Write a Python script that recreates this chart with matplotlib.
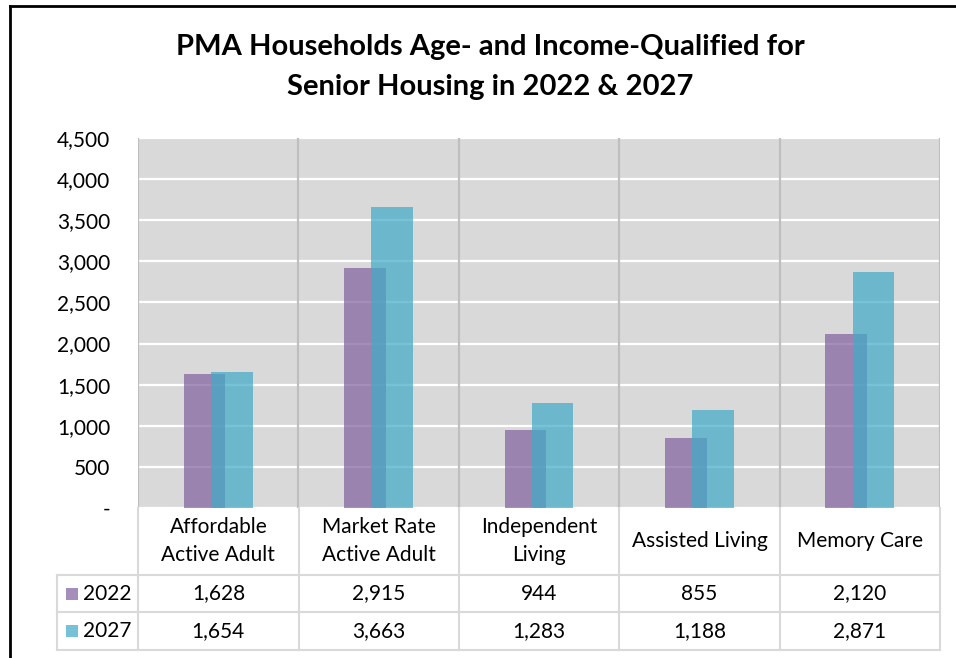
import matplotlib
matplotlib.use('Agg')
import matplotlib.pyplot as plt
import numpy as np
from matplotlib.lines import Line2D
from matplotlib.patches import Rectangle

plt.rcParams['font.family'] = ['Lato', 'DejaVu Sans']

# data
categories = ['Affordable\nActive Adult', 'Market Rate\nActive Adult',
              'Independent\nLiving', 'Assisted Living', 'Memory Care']
years = ['2022', '2027']
values_2022 = [1628, 2915, 944, 855, 2120]
values_2027 = [1654, 3663, 1283, 1188, 2871]
y_ticks = [0, 500, 1000, 1500, 2000, 2500, 3000, 3500, 4000, 4500]
y_tick_labels = ['-', '500', '1,000', '1,500', '2,000', '2,500',
                 '3,000', '3,500', '4,000', '4,500']

purple = '#8362a0'
teal = '#42abc7'
alpha = 0.72
grid_gray = '#d9d9d9'
fs = 15

W, H = 956, 658
fig = plt.figure(figsize=(W / 100, H / 100), dpi=100)


def fx(px):
    return px / W


def fy(py):
    return 1 - py / H


# main plot area
ax = fig.add_axes([fx(138), fy(508), fx(940) - fx(138), fy(138) - fy(508)])
ax.set_facecolor('#d9d9d9')
x = np.arange(len(categories))
bw = 0.26
off = 0.085
ax.bar(x - off, values_2022, bw, color=purple, alpha=alpha, zorder=3)
ax.bar(x + off, values_2027, bw, color=teal, alpha=alpha, zorder=4)
ax.set_xlim(-0.5, len(categories) - 0.5)
ax.set_ylim(0, 4500)
ax.set_yticks(y_ticks)
ax.set_yticklabels(y_tick_labels, fontsize=fs)
ax.tick_params(axis='y', length=0, pad=20)
ax.set_xticks([])
ax.yaxis.grid(True, color='white', linewidth=1.6, zorder=1)
ax.set_axisbelow(True)
for b in np.arange(-0.5, len(categories) + 0.5):
    ax.axvline(b, color='#bfbfbf', linewidth=1.6, zorder=2)
for s in ax.spines.values():
    s.set_visible(False)

# data table below the plot
tx0 = -0.5 - 81 / 160
tab = fig.add_axes([fx(57), fy(650), fx(940) - fx(57), fy(508) - fy(650)])
tab.set_xlim(tx0, len(categories) - 0.5)
tab.set_ylim(650, 508)
tab.axis('off')
row_edges = [575, 612, 650]
lc = grid_gray
for b in np.arange(-0.5, len(categories) + 0.5):
    tab.plot([b, b], [508, 650], color=lc, lw=1.5, clip_on=False)
tab.plot([tx0, tx0], [575, 650], color=lc, lw=1.5, clip_on=False)
for yy in row_edges:
    tab.plot([tx0, len(categories) - 0.5], [yy, yy], color=lc, lw=1.5, clip_on=False)

for i, c in enumerate(categories):
    tab.text(i, 541, c, ha='center', va='center', fontsize=fs, linespacing=1.5)

series = [values_2022, values_2027]
colors = [purple, teal]
for r, (yr, vals, col) in enumerate(zip(years, series, colors)):
    yc = (row_edges[r] + row_edges[r + 1]) / 2
    tab.add_patch(Rectangle((tx0 + 9 / 160, yc - 6), 12 / 160, 12,
                            facecolor=col, alpha=alpha, edgecolor='none'))
    tab.text(tx0 + 26 / 160, yc, yr, ha='left', va='center', fontsize=fs)
    for i, v in enumerate(vals):
        tab.text(i, yc, f'{v:,}', ha='center', va='center', fontsize=fs)

# title
fig.text(fx(490), fy(47), 'PMA Households Age- and Income-Qualified for',
         ha='center', va='center', fontsize=21, fontweight='bold')
fig.text(fx(490), fy(87), 'Senior Housing in 2022 & 2027',
         ha='center', va='center', fontsize=21, fontweight='bold')

# outer frame (left and top only visible)
fig.add_artist(Line2D([fx(10), 1], [fy(6), fy(6)], color='black', lw=2))
fig.add_artist(Line2D([fx(10), fx(10)], [0, fy(6)], color='black', lw=2))

fig.savefig('out.png', dpi=100)
